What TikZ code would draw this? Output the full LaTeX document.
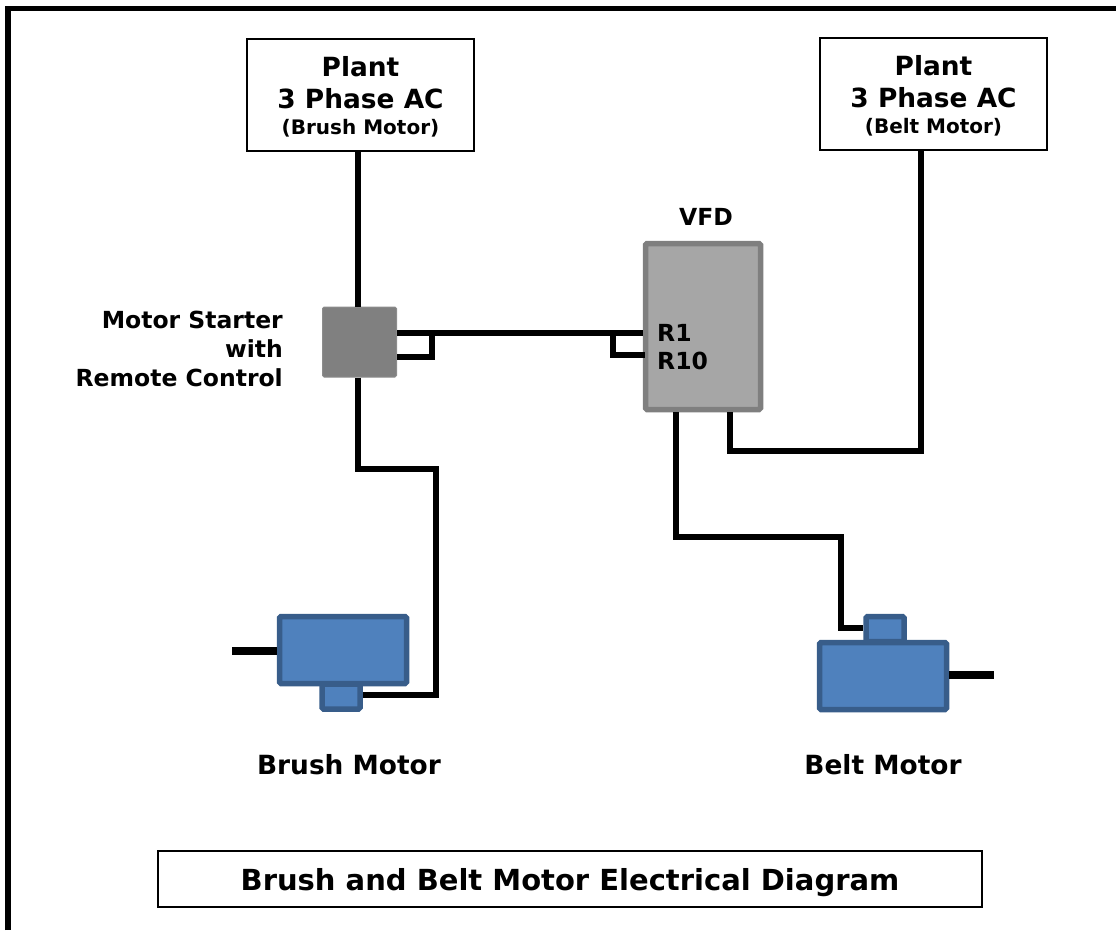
\documentclass[tikz,border=0pt]{standalone}
\usepackage{fontspec}
\setmainfont{DejaVu Sans}
\usetikzlibrary{calc}
\usetikzlibrary{positioning}
\definecolor{motorfill}{HTML}{4F81BD}
\definecolor{motorline}{HTML}{385D8A}
\definecolor{startergray}{HTML}{808080}
\definecolor{vfdfill}{HTML}{A6A6A6}
\definecolor{vfdline}{HTML}{7F7F7F}
\newcommand{\bigfont}{\bfseries\fontsize{26.4}{32}\selectfont}
\newcommand{\smallfont}{\bfseries\fontsize{20}{28}\selectfont}
\newcommand{\tagfont}{\bfseries\fontsize{23.5}{29}\selectfont}
\begin{document}
\begin{tikzpicture}[x=1pt,y=-1pt,line join=miter,
	wire/.style={draw=black,line width=6.5pt},
	shaft/.style={draw=black,line width=8.5pt},
	plain box/.style={draw=black,line width=1.5pt,fill=white,align=center,font=\bigfont,inner sep=0pt},
	label/.style={font=\bigfont,inner sep=0pt},
	motor part/.style={draw=motorline,fill=motorfill,line width=5.5pt,rounded corners=1.5pt,inner sep=0pt}]
	
	\useasboundingbox (0,0) rectangle (1116,930);
	\draw[line width=5.5pt] (8,930) -- (8,8.5) -- (1116,8.5);
	
	\node[plain box,minimum width=227pt,minimum height=112pt] (plantbrush) at (360.5,95) {\rule{0pt}{24pt}Plant\\3 Phase AC\\[-6pt]{\smallfont (Brush Motor)}};
	\node[plain box,minimum width=227pt,minimum height=112pt] (plantbelt) at (933.5,94) {\rule{0pt}{24pt}Plant\\3 Phase AC\\[-6pt]{\smallfont (Belt Motor)}};
	\node[plain box,minimum width=824pt,minimum height=56pt,text depth=0pt,font=\bfseries\fontsize{29}{32}\selectfont] (title) at (570,879) {Brush and Belt Motor Electrical Diagram};
	
	\node[draw=startergray!90,fill=startergray,line width=1pt,rounded corners=1.5pt,minimum width=74pt,minimum height=70pt,inner sep=0pt] (starter) at (359.5,342) {};
	\node[draw=vfdline,fill=vfdfill,line width=5.5pt,rounded corners=1.5pt,minimum width=115pt,minimum height=166pt,inner sep=0pt] (vfd) at (703,326.5) {};
	
	\node[motor part,minimum width=38pt,minimum height=25pt] (brushhub) at (341,696.5) {};
	\node[motor part,minimum width=127pt,minimum height=67pt] (brushbody) at (343,650) {};
	\node[motor part,minimum width=38pt,minimum height=25pt] (belthub) at (885,629) {};
	\node[motor part,minimum width=127pt,minimum height=67pt] (beltbody) at (883,676) {};
	
	\node[label,anchor=west,font=\tagfont] (r1) at (657,333) {R1};
	\node[label,anchor=west,font=\tagfont] (r10) at (657,361) {R10};
	\node[label,font=\tagfont] (vfdlabel) at (706,217) {VFD};
	\node[label,anchor=east,align=right,font=\tagfont] (starterlabel) at (283,349) {Motor Starter\\with\\Remote Control};
	\node[label] (brushlabel) at (349,765) {Brush Motor};
	\node[label] (beltlabel) at (883,765) {Belt Motor};
	
	% bend points of the wires
	\coordinate (a) at (358,469);
	\coordinate (b) at (436,695);
	\coordinate (c) at (676,537);
	\coordinate (d) at (841,628);
	\coordinate (e) at (730,451);
	\coordinate (f) at (921,451);
	\coordinate (g) at (432,333);
	\coordinate (h) at (613,333);
	\coordinate (i) at (397,357);
	\coordinate (j) at (645,355);
	\coordinate (k) at (232,651);
	\coordinate (l) at (994,675);
	
	\draw[wire] (plantbrush.south -| a) -- (starter.north -| a);
	\draw[wire] (starter.south -| a) -- (a) -- (a -| b) -- (b) -- (brushhub.east |- b);
	\draw[wire] (starter.east |- g) -- (vfd.west |- g);
	\draw[wire] (g) -- (g |- i) -- (i);
	\draw[wire] (h) -- (h |- j) -- (j);
	\draw[wire] (vfd.south -| c) -- (c) -- (c -| d) -- (d) -- (belthub.west |- d);
	\draw[wire] (vfd.south -| e) -- (e) -- (f) -- (plantbelt.south -| f);
	\draw[shaft] (k) -- (brushbody.west |- k);
	\draw[shaft] (beltbody.east |- l) -- (l);
	\end{tikzpicture}
\end{document}
